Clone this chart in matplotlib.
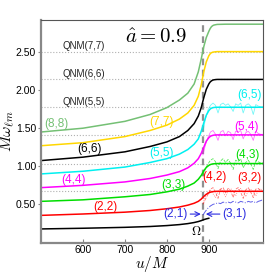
import matplotlib
matplotlib.use("Agg")
import matplotlib.pyplot as plt

plt.rcParams['font.family'] = ['Liberation Sans', 'DejaVu Sans']
plt.rcParams['mathtext.fontset'] = 'cm'

# ---- data ----
u = [500, 600, 700, 760, 800, 830, 850, 865, 875, 882, 888, 894, 900, 903, 906, 909, 912, 916, 920, 940, 980, 1028]
w88 = [1.45, 1.50, 1.59, 1.68, 1.77, 1.87, 1.96, 2.08, 2.24, 2.41, 2.57, 2.69, 2.77, 2.805, 2.83, 2.845, 2.853, 2.858, 2.862, 2.865, 2.865, 2.865]
w77 = [1.27, 1.31, 1.39, 1.47, 1.54, 1.62, 1.70, 1.80, 1.92, 2.07, 2.24, 2.37, 2.45, 2.475, 2.49, 2.497, 2.50, 2.503, 2.505, 2.505, 2.505, 2.505]
w66 = [1.075, 1.12, 1.19, 1.26, 1.32, 1.39, 1.47, 1.56, 1.66, 1.77, 1.90, 2.01, 2.08, 2.105, 2.12, 2.13, 2.135, 2.138, 2.14, 2.14, 2.14, 2.14]
w55 = [0.90, 0.935, 0.99, 1.05, 1.10, 1.16, 1.22, 1.29, 1.36, 1.46, 1.57, 1.67, 1.73, 1.75, 1.762, 1.768, 1.772, 1.774, 1.775, 1.775, 1.775, 1.775]
w44 = [0.72, 0.75, 0.795, 0.84, 0.885, 0.93, 0.98, 1.04, 1.10, 1.17, 1.25, 1.33, 1.375, 1.39, 1.40, 1.405, 1.409, 1.411, 1.412, 1.412, 1.412, 1.412]
w33 = [0.54, 0.56, 0.60, 0.63, 0.665, 0.70, 0.74, 0.78, 0.83, 0.88, 0.94, 0.985, 1.012, 1.021, 1.027, 1.031, 1.033, 1.035, 1.036, 1.036, 1.036, 1.036]
w22 = [0.356, 0.374, 0.398, 0.42, 0.443, 0.466, 0.49, 0.515, 0.54, 0.57, 0.605, 0.633, 0.652, 0.659, 0.664, 0.667, 0.669, 0.671, 0.672, 0.672, 0.672, 0.672]
u_orb = [500, 600, 700, 760, 800, 830, 850, 865, 875, 882, 888, 894, 900]
omega = [0.178, 0.187, 0.199, 0.21, 0.222, 0.235, 0.248, 0.262, 0.275, 0.287, 0.30, 0.31, 0.318]

u_w = [886, 892, 898, 904, 910, 916, 922, 928, 934, 940, 946, 952, 958, 964, 970, 976, 982, 988, 994, 1000, 1006, 1012, 1018, 1024, 1028]
w65 = [1.45, 1.62, 1.74, 1.80, 1.83, 1.80, 1.70, 1.81, 1.83, 1.80, 1.82, 1.78, 1.72, 1.82, 1.80, 1.83, 1.70, 1.80, 1.82, 1.79, 1.68, 1.81, 1.79, 1.78, 1.78]
w54 = [1.15, 1.28, 1.38, 1.45, 1.47, 1.42, 1.34, 1.45, 1.47, 1.40, 1.46, 1.44, 1.35, 1.46, 1.45, 1.47, 1.36, 1.44, 1.46, 1.42, 1.34, 1.46, 1.43, 1.42, 1.42]
w43 = [0.88, 0.97, 1.03, 1.08, 1.10, 1.06, 0.97, 1.07, 1.10, 1.05, 1.09, 1.04, 0.96, 1.08, 1.06, 1.10, 0.98, 1.05, 1.08, 1.03, 0.96, 1.07, 1.06, 1.04, 1.05]
w42 = [0.50, 0.57, 0.63, 0.70, 0.72, 0.66, 0.58, 0.70, 0.72, 0.65, 0.71, 0.68, 0.59, 0.70, 0.72, 0.66, 0.58, 0.69, 0.72, 0.66, 0.59, 0.70, 0.71, 0.68, 0.67]
w32 = [0.52, 0.60, 0.66, 0.69, 0.64, 0.59, 0.67, 0.71, 0.66, 0.60, 0.68, 0.71, 0.67, 0.61, 0.69, 0.71, 0.66, 0.60, 0.68, 0.70, 0.66, 0.61, 0.69, 0.70, 0.68]
w31 = [0.36, 0.41, 0.45, 0.48, 0.50, 0.51, 0.52, 0.51, 0.53, 0.52, 0.53, 0.52, 0.54, 0.53, 0.52, 0.54, 0.53, 0.52, 0.54, 0.53, 0.54, 0.52, 0.54, 0.55, 0.56]

qnm_vals = [2.50, 2.14, 1.775, 1.41, 1.035, 0.672]
qnm_labels = ["QNM(7,7)", "QNM(6,6)", "QNM(5,5)"]
u_merge = 886.5

c88, c77, c66, c55, c44, c33, c22, cb = '#74c074', '#ffd700', 'black', '#00f0f0', '#ff00ff', '#00dd00', '#ff0000', '#2a2ae0'

fig = plt.figure(figsize=(2.66, 2.74), dpi=100)
ax = fig.add_axes([41/266, 1-242.5/274, (262.5-41)/266, (242.5-20)/274])

for q in qnm_vals:
    ax.axhline(q, color='#b0b0b0', ls=':', lw=0.8, zorder=1)
ax.axvline(u_merge, color='#909090', ls='--', lw=1.6, dashes=(3, 2), zorder=1)

lw = 1.1
ax.plot(u, w88, color=c88, lw=lw)
ax.plot(u, w77, color=c77, lw=lw)
ax.plot(u, w66, color=c66, lw=lw)
ax.plot(u, w55, color=c55, lw=lw)
ax.plot(u, w44, color=c44, lw=lw)
ax.plot(u, w33, color=c33, lw=lw)
ax.plot(u, w22, color=c22, lw=lw)
ax.plot(u_orb, omega, color='black', lw=lw)

ax.plot(u_w, w65, color=c55, lw=0.6, alpha=0.55)
ax.plot(u_w, w54, color=c44, lw=0.6, alpha=0.55)
ax.plot(u_w, w43, color=c33, lw=0.6, alpha=0.65, ls='--')
ax.plot(u_w, w42, color=c22, lw=0.6, alpha=0.55, ls='--')
ax.plot(u_w, w32, color=c22, lw=0.6, alpha=0.55, ls=':')
ax.plot(u_w, w31, color=cb, lw=0.7, alpha=0.75, ls='-.')

fs = 8.5
ax.text(536, 1.55, "(8,8)", color=c88, fontsize=fs, ha='center', va='center')
ax.text(788, 1.58, "(7,7)", color=c77, fontsize=fs, ha='center', va='center')
ax.text(615, 1.23, "(6,6)", color=c66, fontsize=fs, ha='center', va='center')
ax.text(788, 1.17, "(5,5)", color=c55, fontsize=fs, ha='center', va='center')
ax.text(578, 0.82, "(4,4)", color=c44, fontsize=fs, ha='center', va='center')
ax.text(816, 0.75, "(3,3)", color=c33, fontsize=fs, ha='center', va='center')
ax.text(654, 0.46, "(2,2)", color=c22, fontsize=fs, ha='center', va='center')
ax.text(997, 1.93, "(6,5)", color=c55, fontsize=fs, ha='center', va='center')
ax.text(990, 1.51, "(5,4)", color=c44, fontsize=fs, ha='center', va='center')
ax.text(991, 1.145, "(4,3)", color=c33, fontsize=fs, ha='center', va='center')
ax.text(914, 0.86, "(4,2)", color=c22, fontsize=fs, ha='center', va='center')
ax.text(997, 0.84, "(3,2)", color=c22, fontsize=fs, ha='center', va='center')
ax.annotate("(2,1)", xy=(881, 0.373), xytext=(820, 0.373), color=cb, fontsize=fs,
            ha='center', va='center',
            arrowprops=dict(arrowstyle='->', color=cb, lw=0.8, shrinkA=0, shrinkB=0))
ax.annotate("(3,1)", xy=(893, 0.373), xytext=(962, 0.373), color=cb, fontsize=fs,
            ha='center', va='center',
            arrowprops=dict(arrowstyle='->', color=cb, lw=0.8, shrinkA=0, shrinkB=0))
ax.text(871, 0.14, r"$\Omega$", color='black', fontsize=9, ha='center', va='center')

for lab, q in zip(qnm_labels, qnm_vals[:3]):
    ax.text(601, q + 0.075, lab, fontsize=7, ha='center', va='center', color='#222222')

ax.text(0.38, 0.92, r"$\hat{a}=0.9$", transform=ax.transAxes, fontsize=15, ha='left', va='center')

ax.set_xlim(500, 1028)
ax.set_ylim(0, 2.92)
ax.set_xticks([600, 700, 800, 900])
ax.set_yticks([0.5, 1.0, 1.5, 2.0, 2.5])
ax.set_yticklabels(["0.50", "1.00", "1.50", "2.00", "2.50"])
ax.tick_params(axis='x', direction='in', length=3, labelsize=7.5, pad=2, color='#888888')
ax.tick_params(axis='y', direction='out', length=2, labelsize=7.5, pad=1.5, color='#888888')
ax.set_xlabel(r"$u/M$", fontsize=11)
ax.set_ylabel(r"$M\omega_{\ell m}$", fontsize=11.5)
ax.xaxis.set_label_coords(0.5, -0.098)
ax.yaxis.set_label_coords(-0.148, 0.5)
ax.xaxis.label.set_va('center')
ax.yaxis.label.set_va('center')
for s in ['left', 'bottom']:
    ax.spines[s].set_color('#888888')
    ax.spines[s].set_linewidth(1.6)
for s in ['top', 'right']:
    ax.spines[s].set_color('#555555')
    ax.spines[s].set_linewidth(0.8)

fig.savefig("out.png", dpi=100)
